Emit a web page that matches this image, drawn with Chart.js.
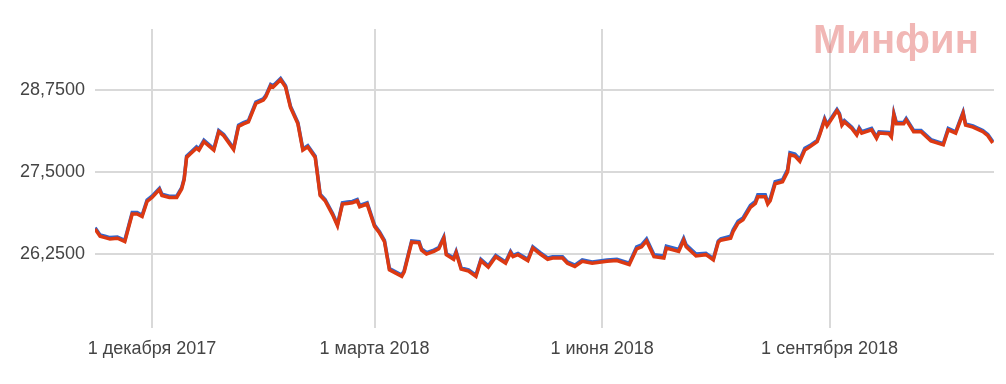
<!DOCTYPE html>
<html>
<head>
<meta charset="utf-8">
<script src="https://cdn.jsdelivr.net/npm/chart.js@4.4.0/dist/chart.umd.min.js"></script>
<style>
  body { margin: 0; background: #fff; }
  #wrap { position: relative; width: 1006px; height: 384px; }
  #logo {
    position: absolute; left: 813px; top: 19px;
    font: bold 40px 'Liberation Sans', Arial, sans-serif; line-height: 40px;
    color: rgba(225, 95, 90, 0.45); pointer-events: none;
  }
</style>
</head>
<body>
<div id="wrap">
  <canvas id="rateChart" width="1006" height="384"></canvas>
  <div id="logo">Минфин</div>
</div>
<script>
// days counted from 1 December 2017
const dayOffsets = [-23,-21,-19,-17,-14,-11,-8,-6,-4,-2,0,3,4,7,10,12,13,14,16,18,19,21,25,27,29,33,35,37,39,42,45,46,48,49,52,54,56,59,61,63,66,68,70,73,75,77,79,81,83,84,87,90,92,94,96,101,102,105,108,109,111,114,116,118,119,122,123,125,128,131,133,136,139,143,145,146,148,152,154,157,160,162,166,168,171,174,178,184,188,193,196,198,200,203,207,208,213,215,216,220,224,227,229,230,234,235,237,239,242,244,245,248,249,250,252,255,257,258,260,262,264,266,269,270,272,273,277,278,279,280,283,285,286,287,291,293,294,298,299,300,301,304,305,308,311,315,320,322,325,328,329,332,336,338,340];

const sellRates = [26.63,26.52,26.50,26.48,26.49,26.44,26.86,26.86,26.82,27.05,27.11,27.23,27.14,27.11,27.11,27.24,27.38,27.72,27.79,27.86,27.83,27.96,27.83,28.11,28.05,27.84,28.19,28.23,28.26,28.54,28.59,28.64,28.81,28.79,28.90,28.79,28.48,28.23,27.83,27.88,27.72,27.14,27.06,26.85,26.68,27.01,27.02,27.03,27.06,26.97,27.01,26.67,26.57,26.44,26.01,25.91,25.98,26.43,26.42,26.31,26.25,26.29,26.33,26.49,26.24,26.17,26.27,26.02,25.99,25.91,26.15,26.05,26.21,26.11,26.27,26.21,26.24,26.15,26.34,26.25,26.17,26.19,26.19,26.11,26.06,26.14,26.11,26.14,26.15,26.09,26.33,26.36,26.45,26.21,26.19,26.34,26.29,26.46,26.36,26.22,26.24,26.16,26.43,26.46,26.49,26.59,26.72,26.77,26.96,27.02,27.12,27.12,27.01,27.06,27.32,27.35,27.50,27.76,27.74,27.66,27.83,27.88,27.96,28.06,28.29,28.20,28.43,28.37,28.21,28.26,28.16,28.06,28.15,28.09,28.14,28.01,28.09,28.08,28.03,28.37,28.23,28.23,28.29,28.11,28.11,27.97,27.91,28.14,28.09,28.39,28.21,28.18,28.11,28.05,27.94];

const buyRates = [26.65,26.54,26.52,26.50,26.51,26.46,26.88,26.88,26.84,27.07,27.13,27.25,27.16,27.13,27.13,27.26,27.40,27.74,27.81,27.88,27.85,27.98,27.85,28.13,28.07,27.86,28.21,28.25,28.28,28.56,28.61,28.66,28.83,28.81,28.92,28.81,28.50,28.25,27.85,27.90,27.74,27.16,27.08,26.87,26.70,27.03,27.04,27.05,27.08,26.99,27.03,26.69,26.59,26.46,26.03,25.93,26.00,26.45,26.44,26.33,26.27,26.31,26.35,26.51,26.26,26.19,26.29,26.04,26.01,25.93,26.17,26.07,26.23,26.13,26.29,26.23,26.26,26.17,26.36,26.27,26.19,26.21,26.21,26.13,26.08,26.16,26.13,26.16,26.17,26.11,26.36,26.39,26.48,26.24,26.22,26.37,26.32,26.49,26.39,26.25,26.26,26.18,26.45,26.48,26.52,26.62,26.75,26.80,26.99,27.05,27.15,27.15,27.04,27.09,27.35,27.38,27.53,27.79,27.77,27.69,27.86,27.90,27.98,28.08,28.31,28.22,28.45,28.39,28.23,28.28,28.18,28.08,28.17,28.11,28.16,28.03,28.11,28.10,28.05,28.39,28.25,28.25,28.31,28.13,28.13,27.99,27.93,28.16,28.11,28.41,28.23,28.20,28.13,28.07,27.96];

const xTickDays = [0, 90, 182, 274];
const xTickLabels = ['1 декабря 2017', '1 марта 2018', '1 июня 2018', '1 сентября 2018'];
const yTickValues = [26.25, 27.5, 28.75];

const labelFont = { family: "'Liberation Sans', Arial, sans-serif", size: 18 };

const sellPoints = dayOffsets.map((d, i) => ({ x: d, y: sellRates[i] }));
const buyPoints = dayOffsets.map((d, i) => ({ x: d, y: buyRates[i] }));

new Chart(document.getElementById('rateChart'), {
  type: 'line',
  data: {
    datasets: [
      { data: sellPoints, borderColor: '#dc3912', borderWidth: 3.5, pointRadius: 0, tension: 0, order: 0 },
      { data: buyPoints, borderColor: '#3366cc', borderWidth: 3.5, pointRadius: 0, tension: 0, order: 1 }
    ]
  },
  options: {
    responsive: false,
    animation: false,
    layout: { padding: { top: 29, right: 12, left: 0, bottom: 0 } },
    plugins: { legend: { display: false }, tooltip: { enabled: false } },
    scales: {
      x: {
        type: 'linear',
        min: -23.05,
        max: 340.5,
        afterBuildTicks: (scale) => { scale.ticks = xTickDays.map(v => ({ value: v })); },
        afterFit: (scale) => { scale.height = 56; },
        border: { display: false },
        grid: { color: '#d9d9d9', lineWidth: 2, drawTicks: false },
        ticks: {
          autoSkip: false, maxRotation: 0, padding: 10, color: '#444', font: labelFont,
          callback: (value, index) => xTickLabels[index]
        }
      },
      y: {
        min: 25.125,
        max: 29.673,
        afterBuildTicks: (scale) => { scale.ticks = yTickValues.map(v => ({ value: v })); },
        afterFit: (scale) => { scale.width = 95; },
        border: { display: false },
        grid: { color: '#d9d9d9', lineWidth: 2, drawTicks: false },
        ticks: {
          padding: 10, color: '#444', font: labelFont,
          callback: (value) => value.toFixed(4).replace('.', ',')
        }
      }
    }
  }
});
</script>
</body>
</html>
